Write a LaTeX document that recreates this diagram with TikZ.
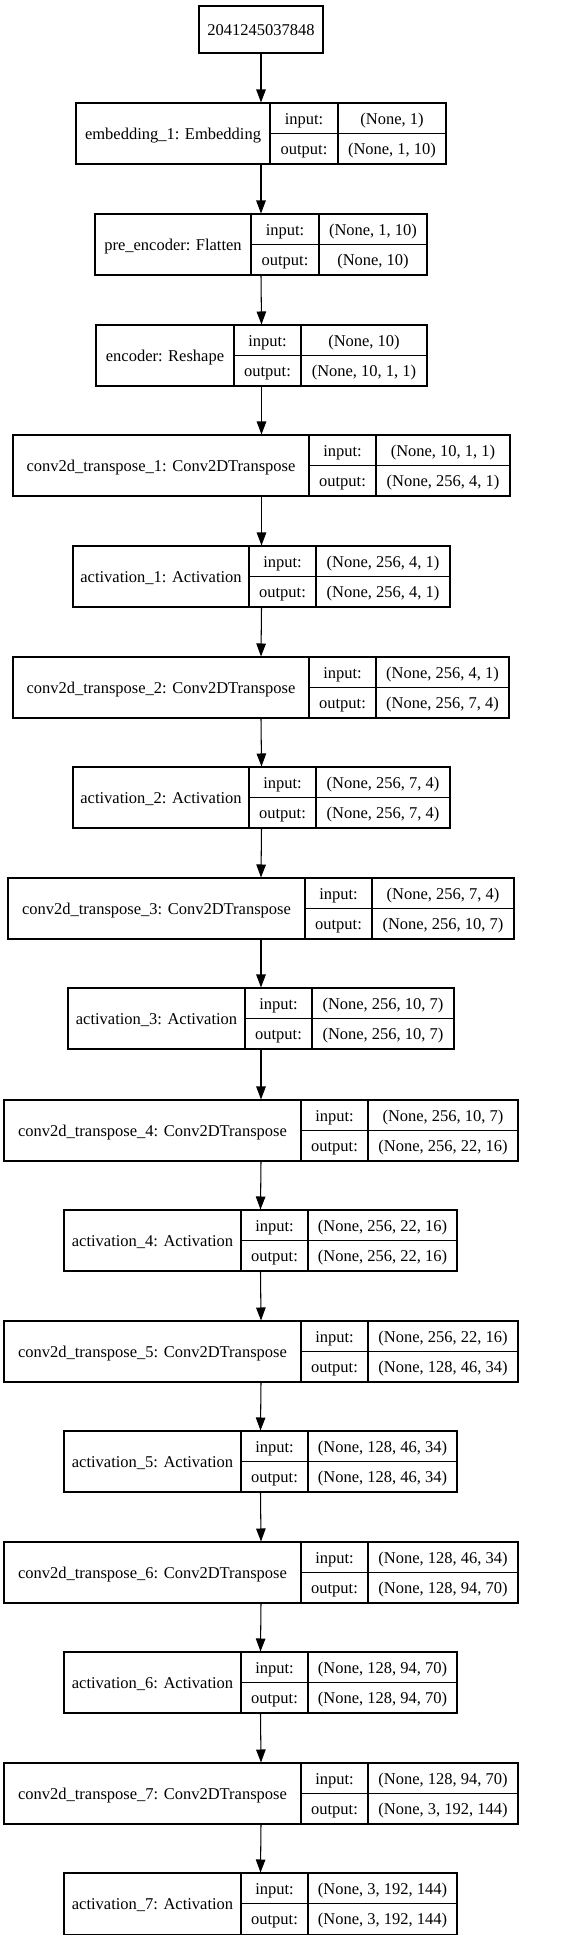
\documentclass[tikz,border=0pt]{standalone}
\usepackage{fontspec}
\setmainfont{Liberation Serif}
\usetikzlibrary{arrows.meta}
\tikzset{
  box/.style={draw=black, line width=1.05pt, rectangle, inner sep=0pt},
  txt/.style={inner sep=0pt, anchor=base, font=\fontsize{16.5}{20}\selectfont, text=black},
  ln/.style={draw=black, line width=1.05pt},
  arr/.style={draw=black, line width=1.05pt, -{Triangle[length=13pt,width=9.5pt]}}
}
\newcommand\mylayer[9]{%
  \node[box, minimum width={#6-#3}, minimum height=61] (#1) at ({(#3+#6)/2},{#2+30.5}) {};
  \draw[ln] (#4,#2) -- (#4,{#2+61});
  \draw[ln] (#5,#2) -- (#5,{#2+61});
  \draw[ln] (#4,{#2+30.5}) -- (#6,{#2+30.5});
  \node[txt] (#1-name) at ({(#3+#4)/2},{#2+36}) {#7};
  \node[txt] (#1-il) at ({(#4+#5)/2},{#2+21}) {input:};
  \node[txt] (#1-ol) at ({(#4+#5)/2},{#2+51.5}) {output:};
  \node[txt] (#1-iv) at ({(#5+#6)/2},{#2+21}) {#8};
  \node[txt] (#1-ov) at ({(#5+#6)/2},{#2+51.5}) {#9};
}
\begin{document}
\begin{tikzpicture}[x=1pt,y=-1pt]
\useasboundingbox (0,0) rectangle (583,1941);
\node[box, minimum width=124, minimum height=47] (L0) at (261,29.5) {};
\node[txt] (L0-name) at (261,35) {2041245037848};
\mylayer{L1}{103}{76}{270}{338}{446}{embedding\_1: Embedding}{(None, 1)}{(None, 1, 10)}
\mylayer{L2}{214}{95}{251}{319}{427}{pre\_encoder: Flatten}{(None, 1, 10)}{(None, 10)}
\mylayer{L3}{325}{96}{234}{301}{427}{encoder: Reshape}{(None, 10)}{(None, 10, 1, 1)}
\mylayer{L4}{435}{13}{309}{376}{510}{conv2d\_transpose\_1: Conv2DTranspose}{(None, 10, 1, 1)}{(None, 256, 4, 1)}
\mylayer{L5}{546}{73}{249}{316}{450}{activation\_1: Activation}{(None, 256, 4, 1)}{(None, 256, 4, 1)}
\mylayer{L6}{657}{13}{309}{376}{509}{conv2d\_transpose\_2: Conv2DTranspose}{(None, 256, 4, 1)}{(None, 256, 7, 4)}
\mylayer{L7}{767}{73}{249}{316}{450}{activation\_2: Activation}{(None, 256, 7, 4)}{(None, 256, 7, 4)}
\mylayer{L8}{878}{8}{305}{372}{514}{conv2d\_transpose\_3: Conv2DTranspose}{(None, 256, 7, 4)}{(None, 256, 10, 7)}
\mylayer{L9}{988}{68}{245}{312}{454}{activation\_3: Activation}{(None, 256, 10, 7)}{(None, 256, 10, 7)}
\mylayer{L10}{1100}{4}{301}{368}{518}{conv2d\_transpose\_4: Conv2DTranspose}{(None, 256, 10, 7)}{(None, 256, 22, 16)}
\mylayer{L11}{1210}{64}{241}{308}{457}{activation\_4: Activation}{(None, 256, 22, 16)}{(None, 256, 22, 16)}
\mylayer{L12}{1321}{4}{301}{368}{518}{conv2d\_transpose\_5: Conv2DTranspose}{(None, 256, 22, 16)}{(None, 128, 46, 34)}
\mylayer{L13}{1431}{64}{241}{308}{457}{activation\_5: Activation}{(None, 128, 46, 34)}{(None, 128, 46, 34)}
\mylayer{L14}{1542}{4}{301}{368}{518}{conv2d\_transpose\_6: Conv2DTranspose}{(None, 128, 46, 34)}{(None, 128, 94, 70)}
\mylayer{L15}{1652}{64}{241}{308}{457}{activation\_6: Activation}{(None, 128, 94, 70)}{(None, 128, 94, 70)}
\mylayer{L16}{1763}{4}{301}{368}{518}{conv2d\_transpose\_7: Conv2DTranspose}{(None, 128, 94, 70)}{(None, 3, 192, 144)}
\mylayer{L17}{1873}{64}{241}{308}{457}{activation\_7: Activation}{(None, 3, 192, 144)}{(None, 3, 192, 144)}
\foreach \a/\b in {L0/L1,L1/L2,L2/L3,L3/L4,L4/L5,L5/L6,L6/L7,L7/L8,L8/L9,L9/L10,L10/L11,L11/L12,L12/L13,L13/L14,L14/L15,L15/L16,L16/L17}
  \draw[arr] (\a.south) -- (\b.north);
\end{tikzpicture}
\end{document}
